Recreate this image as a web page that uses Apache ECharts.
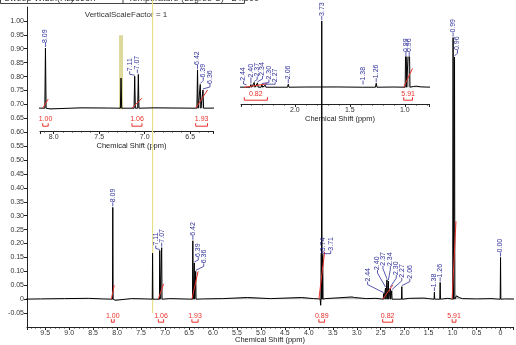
<!DOCTYPE html>
<html><head><meta charset="utf-8">
<script src="https://cdn.jsdelivr.net/npm/echarts@6/dist/echarts.min.js"></script>
<style>html,body{margin:0;padding:0;background:#fff}#c{width:516px;height:345px}</style>
</head><body><div id="c"></div>
<script>
// ---- data ----
const peakPpm    = [8.09, 7.26, 7.11, 7.07, 6.42, 6.39, 6.36, 3.74, 3.73, 3.71, 2.44, 2.40, 2.37, 2.34, 2.30, 2.27, 2.06, 1.38, 1.26, 0.99, 0.96, 0.00];
const peakHeight = [0.33, 0.165, 0.175, 0.185, 0.21, 0.13, 0.10, 0.165, 1.00, 0.16, 0.02, 0.04, 0.07, 0.065, 0.04, 0.03, 0.045, 0.025, 0.06, 0.94, 0.87, 0.15];
const baselinePpm = [10.0, 9.6, 9.1, 8.6, 8.3, 8.04, 7.7, 7.4, 6.9, 6.2, 5.8, 5.28, 4.8, 4.15, 3.9, 3.765, 3.752, 3.69, 3.66, 3.37, 3.10, 3.05, 2.8, 2.6, 1.9, 1.6, 1.5, 1.1, 0.92, 0.89, 0.86, 0.8, 0.5, 0.2, -0.1, -0.5];
const baselineVal = [0, 0.001, 0.002, 0.003, 0.001, -0.004, 0.002, 0.001, 0.002, 0.001, 0.002, 0.006, 0.002, 0.006, 0.002, 0.001, -0.022, 0.007, 0.002, 0.005, 0.008, 0.006, 0.002, 0.003, 0.003, 0.004, 0.002, 0.003, 0.012, 0.015, 0.006, 0.002, 0.001, 0.002, 0.001, 0];
const mainLabels   = ['8.09','7.11','7.07','6.42','6.39','6.36','3.74','3.73','3.71','2.44','2.40','2.37','2.34','2.30','2.27','2.06','1.38','1.26','0.99','0.96','0.00'];
const inset1Labels = ['8.09','7.11','7.07','6.42','6.39','6.36'];
const inset2Labels = ['2.44','2.40','2.37','2.34','2.30','2.27','2.06','1.38','1.26','0.99','0.96'];
const integralStart = [8.12, 7.14, 6.44, 3.79, 2.46, 1.01];
const integralEnd   = [8.06, 7.03, 6.31, 3.67, 2.25, 0.93];
const integralValue = ['1.00', '1.06', '1.93', '0.89', '0.82', '5.91'];
const integralCurve = [0.05, 0.055, 0.10, 0.17, 0.05, 0.28];
const solventPpm = 7.26;

// ---- layout (pixel offsets of peak labels: [dx, gap]) ----
const mainLayout = {'7.11':[-4,5],'6.39':[4,6],'6.36':[8,8],'3.74':[2,2],'3.71':[8,4],
  '2.44':[-16,12],'2.40':[-8,18],'2.37':[-4,14],'2.34':[2,15],'2.30':[6,13],'2.27':[10,13],'2.06':[8,8],'0.96':[3,7]};
const inset1Layout = {'7.11':[-5,5],'7.07':[-1,5],'6.39':[3,7],'6.36':[7,6]};
const inset2Layout = {'2.44':[-3,5],'2.40':[0,7],'2.37':[3,6],'2.34':[5,7],'2.30':[7,5],'2.27':[10,3]};

const FONT = 'Liberation Sans, Arial, sans-serif';
const BLUE = '#30309a', RED = '#e8302a', AX = '#222';

// spectrum polyline from peak sticks + baseline points
const W = 0.007;
const pts = [];
peakPpm.forEach((p, i) => { pts.push([p + W, 0], [p, peakHeight[i]], [p - W, 0]); });
baselinePpm.forEach((p, i) => pts.push([p, baselineVal[i]]));
pts.sort((a, b) => b[0] - a[0]);

const ranges = [[-0.26, 9.88], [6.25, 8.15], [0.78, 2.49]];
const yRanges = [[-0.1, 1.05], [-0.125, 0.5], [-0.25, 0.45]];

function specSeries(g) {
  return {type:'line', xAxisIndex:g, yAxisIndex:g, data:pts, showSymbol:false, symbol:'none',
    lineStyle:{color:'#000', width:1}, areaStyle:{color:'#8a8a8a', opacity:0.55, origin:0},
    animation:false, clip:true, z:3, silent:true};
}
function labelSeries(g, names, layout) {
  const data = names.map(n => { const i = peakPpm.indexOf(parseFloat(n)); return [peakPpm[i], peakHeight[i]]; });
  return {type:'custom', xAxisIndex:g, yAxisIndex:g, data, animation:false, silent:true, z:6,
    renderItem(params, api) {
      const n = names[params.dataIndex];
      const lay = layout[n] || [0, 5];
      const pp = api.value(0), h = api.value(1);
      const c = api.coord([pp, h]);
      const top = api.coord([pp, yRanges[g][1]])[1];
      const px = c[0], py = Math.max(c[1], top);
      const ax = px + lay[0], ay = py - lay[1];
      let points;
      if (lay[0] === 0) points = [[px, py - 1], [px, ay]];
      else points = [[px, py - 1], [ax, Math.min(ay + 3, py - 1)], [ax, ay]];
      return {type:'group', children:[
        {type:'polyline', shape:{points}, style:{stroke:BLUE, lineWidth:0.8, fill:null}},
        {type:'text', x:ax, y:ay, rotation:Math.PI/2,
         style:{text:n, x:0, y:0, fontSize:7, fontFamily:FONT, fill:BLUE, align:'left', verticalAlign:'middle'}}
      ]};
    }};
}
function integralSeries(g, textOff, brOff) {
  const r = ranges[g];
  const idx = integralStart.map((s, i) => i).filter(i => integralStart[i] <= r[1] && integralEnd[i] >= r[0]);
  const data = idx.map(i => [integralStart[i], integralEnd[i], integralCurve[i], i]);
  return {type:'custom', xAxisIndex:g, yAxisIndex:g, data, animation:false, silent:true, z:5,
    renderItem(params, api) {
      const s = api.value(0), e = api.value(1), h = api.value(2), i = api.value(3);
      const p0 = api.coord([s, 0]), p1 = api.coord([e, h]);
      const xe = api.coord([e, 0])[0];
      const yb = p0[1] + brOff;
      return {type:'group', children:[
        {type:'line', shape:{x1:p0[0], y1:p0[1], x2:p1[0], y2:p1[1]}, style:{stroke:RED, lineWidth:1}},
        {type:'polyline', shape:{points:[[p0[0], yb - 3], [p0[0], yb], [xe, yb], [xe, yb - 3]]}, style:{stroke:RED, lineWidth:1, fill:null}},
        {type:'text', x:(p0[0] + xe) / 2, y:p0[1] + textOff,
         style:{text:integralValue[i], fontSize:7, fontFamily:FONT, fill:RED, align:'center', verticalAlign:'middle'}}
      ]};
    }};
}

function xAx(g, name, extra) {
  return Object.assign({gridIndex:g, type:'value', inverse:true, min:ranges[g][0], max:ranges[g][1],
    axisLine:{onZero:false, lineStyle:{color:AX, width:1}},
    axisTick:{length:3, lineStyle:{color:AX}},
    minorTick:{show:true, splitNumber:5, length:1.5, lineStyle:{color:AX}},
    splitLine:{show:false},
    axisLabel:{fontSize:7, fontFamily:FONT, color:'#333', margin:3, interval:0, showMinLabel:false, showMaxLabel:false,
      formatter: v => Math.abs(v) < 1e-9 ? '0' : v.toFixed(1)},
    name, nameLocation:'middle', nameGap:10, nameTextStyle:{fontSize:7.5, fontFamily:FONT, color:'#222', padding:[0,0,0,10]}}, extra);
}

const chart = echarts.init(document.getElementById('c'), null, {renderer:'canvas'});
chart.setOption({
  animation:false,
  backgroundColor:'#fff',
  grid:[
    {left:27, right:3, top:7, bottom:18, containLabel:false, outerBoundsMode:'none'},
    {left:40, width:173, top:17, height:114, containLabel:false, outerBoundsMode:'none'},
    {left:241, width:188, top:57, height:47, containLabel:false, outerBoundsMode:'none'}
  ],
  xAxis:[
    xAx(0, 'Chemical Shift (ppm)', {splitNumber:20, nameGap:9, nameMoveOverlap:false, nameTextStyle:{fontSize:7.5, fontFamily:FONT, color:'#222'}}),
    xAx(1, 'Chemical Shift (ppm)', {splitNumber:4}),
    xAx(2, 'Chemical Shift (ppm)', {splitNumber:4})
  ],
  yAxis:[
    {gridIndex:0, type:'value', min:yRanges[0][0], max:yRanges[0][1], interval:0.05,
     axisLine:{show:true, onZero:false, lineStyle:{color:AX}}, axisTick:{show:true, length:3, lineStyle:{color:AX}},
     splitLine:{show:false},
     axisLabel:{fontSize:7, fontFamily:FONT, color:'#333', margin:3, showMinLabel:false, showMaxLabel:false,
       formatter: v => Math.abs(v) < 1e-9 ? '0' : v.toFixed(2)},
     name:'Absolute Intensity', nameLocation:'middle', nameGap:17, nameTextStyle:{fontSize:7, fontFamily:FONT, color:'#333'}},
    {gridIndex:1, type:'value', min:yRanges[1][0], max:yRanges[1][1], show:false},
    {gridIndex:2, type:'value', min:yRanges[2][0], max:yRanges[2][1], show:false}
  ],
  graphic:[
    {type:'rect', shape:{x:0.5, y:-10, width:244, height:13.5}, style:{fill:'none', stroke:'#444', lineWidth:1}},
    {type:'line', shape:{x1:123, y1:-10, x2:123, y2:3.5}, style:{stroke:'#444'}},
    {type:'text', x:4, y:3, style:{text:'Sweep Width(Hz)', fontSize:9, fontFamily:FONT, fill:'#333', verticalAlign:'bottom'}},
    {type:'text', x:70, y:3, style:{text:'8898.7', fontSize:9, fontFamily:FONT, fill:'#333', verticalAlign:'bottom'}},
    {type:'text', x:128, y:3, style:{text:'Temperature (degree C)   24.000', fontSize:9, fontFamily:FONT, fill:'#333', verticalAlign:'bottom'}},
    {type:'text', x:126, y:15, style:{text:'VerticalScaleFactor = 1', fontSize:8, fontFamily:'Liberation Sans Narrow, Liberation Sans, Arial', fill:'#333', align:'center', verticalAlign:'middle'}}
  ],
  series:[
    {type:'custom', xAxisIndex:1, yAxisIndex:1, data:[[solventPpm]], animation:false, silent:true, z:1,
     renderItem(params, api) {
       const a = api.coord([api.value(0), 0.4]), b = api.coord([api.value(0), 0]);
       return {type:'rect', shape:{x:a[0] - 2, y:a[1], width:4, height:b[1] - a[1] + 1}, style:{fill:'#dcd99a'}};
     }},
    specSeries(0), specSeries(1), specSeries(2),
    integralSeries(0, 17, 23), integralSeries(1, 11, 18), integralSeries(2, 7, 13),
    labelSeries(0, mainLabels, mainLayout), labelSeries(1, inset1Labels, inset1Layout), labelSeries(2, inset2Labels, inset2Layout),
    {type:'custom', xAxisIndex:0, yAxisIndex:0, data:[[solventPpm]], animation:false, silent:true, z:2,
     renderItem(params, api) {
       const p = api.coord([api.value(0), -0.05]);
       return {type:'line', shape:{x1:p[0], y1:0, x2:p[0], y2:p[1]}, style:{stroke:'#e4e08a', lineWidth:1.2}};
     }}
  ]
});
</script></body></html>
